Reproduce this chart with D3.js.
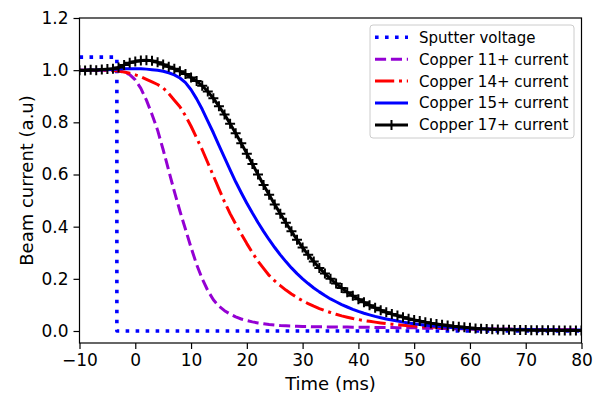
<!DOCTYPE html>
<html><head><meta charset="utf-8">
<script src="https://cdn.jsdelivr.net/npm/d3@7"></script>
<style>html,body{margin:0;padding:0;background:#fff}svg{display:block;font-family:"DejaVu Sans",sans-serif}</style>
</head><body><svg id="c" width="602" height="394"></svg>
<script>
// ---- data ----
const time = [-10,-9,-8,-7,-6,-5,-4,-3,-2,-1,0,1,2,3,4,5,6,7,8,9,10,11,12,13,14,15,16,17,18,19,20,21,22,23,24,25,26,27,28,29,30,31,32,33,34,35,36,37,38,39,40,41,42,43,44,45,46,47,48,49,50,51,52,53,54,55,56,57,58,59,60,61,62,63,64,65,66,67,68,69,70,71,72,73,74,75,76,77,78,79,80];
const voltageTime = [-10, -3.3, -3.3, 80];
const sputterVoltage = [1.05, 1.05, 0, 0];
const copper11 = [1.0,1.0,1.0,1.0,1.0,1.0,0.999,0.997,0.992,0.983,
 0.963,0.93,0.885,0.83,0.77,0.695,0.615,0.535,0.46,0.39,
 0.32,0.255,0.2,0.155,0.12,0.095,0.078,0.065,0.054,0.046,
 0.04,0.035,0.031,0.028,0.025,0.023,0.021,0.02,0.019,0.018,
 0.017,0.017,0.016,0.016,0.016,0.015,0.015,0.015,0.015,0.014,
 0.014,0.014,0.014,0.013,0.013,0.013,0.013,0.012,0.012,0.012,
 0.012,0.011,0.011,0.011,0.010,0.010,0.010,0.009,0.009,0.009,
 0.009,0.008,0.008,0.008,0.008,0.007,0.007,0.007,0.007,0.007,
 0.006,0.006,0.006,0.006,0.006,0.005,0.005,0.005,0.005,0.005,0.005];
const copper14 = [1.0,1.0,1.0,1.0,1.0,1.0,0.999,0.997,0.993,0.988,
 0.982,0.975,0.965,0.955,0.945,0.932,0.91,0.885,0.86,0.825,
 0.785,0.74,0.695,0.645,0.595,0.545,0.495,0.45,0.41,0.372,
 0.335,0.3,0.268,0.24,0.213,0.192,0.174,0.157,0.142,0.128,
 0.116,0.105,0.095,0.086,0.078,0.071,0.064,0.058,0.053,0.048,
 0.044,0.04,0.037,0.034,0.031,0.028,0.026,0.024,0.022,0.02,
 0.019,0.017,0.016,0.015,0.014,0.013,0.012,0.011,0.01,0.009,
 0.009,0.008,0.008,0.008,0.007,0.007,0.007,0.007,0.006,0.006,
 0.006,0.006,0.006,0.005,0.005,0.005,0.005,0.005,0.004,0.004,0.004];
const copper15 = [1.0,1.0,1.001,1.001,1.002,1.002,1.003,1.004,1.005,1.005,
 1.005,1.005,1.004,1.002,1.0,0.996,0.99,0.982,0.97,0.952,
 0.925,0.89,0.85,0.805,0.76,0.712,0.665,0.618,0.572,0.53,
 0.49,0.452,0.416,0.382,0.35,0.32,0.292,0.266,0.242,0.22,
 0.2,0.182,0.165,0.15,0.136,0.123,0.112,0.101,0.092,0.083,
 0.075,0.068,0.062,0.056,0.051,0.046,0.042,0.038,0.034,0.031,
 0.028,0.025,0.022,0.02,0.018,0.016,0.014,0.012,0.011,0.01,
 0.009,0.008,0.008,0.008,0.007,0.007,0.007,0.007,0.006,0.006,
 0.006,0.006,0.005,0.005,0.005,0.005,0.004,0.004,0.004,0.004,0.004];
const copper17 = [1.0,0.999,1.002,1.0,1.003,1.004,1.005,1.01,1.02,1.028,
 1.033,1.037,1.038,1.036,1.03,1.022,1.013,1.005,0.996,0.985,
 0.972,0.958,0.94,0.918,0.892,0.862,0.83,0.795,0.758,0.72,
 0.68,0.64,0.6,0.56,0.522,0.485,0.45,0.415,0.382,0.35,
 0.32,0.292,0.266,0.242,0.22,0.2,0.182,0.165,0.149,0.135,
 0.122,0.11,0.099,0.089,0.08,0.072,0.065,0.059,0.053,0.047,
 0.042,0.038,0.034,0.03,0.027,0.024,0.021,0.018,0.016,0.014,
 0.012,0.01,0.009,0.008,0.007,0.006,0.005,0.005,0.004,0.004,
 0.004,0.003,0.003,0.003,0.003,0.003,0.002,0.002,0.002,0.002,0.002];
const xTicks = [-10,0,10,20,30,40,50,60,70,80];
const yTicks = [0.0,0.2,0.4,0.6,0.8,1.0,1.2];
const seriesNames = ["Sputter voltage","Copper 11+ current","Copper 14+ current","Copper 15+ current","Copper 17+ current"];

// ---- chart ----
const svg = d3.select("#c");
const L = 79.5, R = 581.5, T = 18, B = 343;
const x = d3.scaleLinear().domain([-10, 80]).range([L, R]);
const y = d3.scaleLinear().domain([-0.046, 1.2]).range([B, T]);

svg.append("defs").append("clipPath").attr("id","clip")
  .append("rect").attr("x",L).attr("y",T).attr("width",R-L).attr("height",B-T);

const styles = [
  {color:"#0000ff", width:3.6, dash:"3.6 6.4", cap:"butt"},
  {color:"#9400d3", width:3, dash:"11.1 4.8", cap:"butt"},
  {color:"#ff0000", width:3, dash:"19.2 4.8 3 4.8", cap:"butt"},
  {color:"#0000ff", width:3, dash:null, cap:"butt"},
  {color:"#000000", width:3, dash:null, cap:"butt"}
];

const plot = svg.append("g").attr("clip-path","url(#clip)");
const line = d3.line().x(d=>x(d[0])).y(d=>y(d[1]));

const seriesData = [
  voltageTime.map((t,i)=>[t, sputterVoltage[i]]),
  time.map((t,i)=>[t, copper11[i]]),
  time.map((t,i)=>[t, copper14[i]]),
  time.map((t,i)=>[t, copper15[i]]),
  time.map((t,i)=>[t, copper17[i]])
];

seriesData.forEach((data, k) => {
  const s = styles[k];
  plot.append("path").datum(data).attr("d", line)
    .attr("fill","none").attr("stroke", s.color).attr("stroke-width", s.width)
    .attr("stroke-dasharray", s.dash).attr("stroke-linecap", s.cap).attr("stroke-linejoin","round");
});

// '+' markers for Copper 17+
const plusSym = d3.symbol().type(d3.symbolCross);
const plusPath = "M-5,0H5M0,-5V5";
plot.append("g").selectAll("path").data(seriesData[4]).join("path")
  .attr("transform", d=>`translate(${x(d[0])},${y(d[1])})`)
  .attr("d", plusPath).attr("stroke","#000").attr("stroke-width",2).attr("fill","none");

// axes
const xAxis = d3.axisBottom(x).tickValues(xTicks).tickSize(6).tickPadding(5).tickFormat(d3.format("d"));
const yAxis = d3.axisLeft(y).tickValues(yTicks).tickSize(6).tickPadding(5).tickFormat(d3.format(".1f"));
const gx = svg.append("g").attr("transform",`translate(0,${B})`).call(xAxis);
const gy = svg.append("g").attr("transform",`translate(${L},0)`).call(yAxis);
[gx, gy].forEach(g => {
  g.select(".domain").remove();
  g.selectAll(".tick line").attr("stroke","#000").attr("stroke-width",1.2);
  g.selectAll(".tick text").attr("fill","#000").style("font-size","17px").style("font-family","DejaVu Sans");
});

// frame
svg.append("rect").attr("x",L).attr("y",T).attr("width",R-L).attr("height",B-T)
  .attr("fill","none").attr("stroke","#000").attr("stroke-width",1.2);

// labels
svg.append("text").attr("x",(L+R)/2).attr("y",390).attr("text-anchor","middle")
  .style("font-size","18px").text("Time (ms)");
svg.append("text").attr("transform",`translate(33,${(T+B)/2}) rotate(-90)`).attr("text-anchor","middle")
  .style("font-size","18px").text("Beam current (a.u)");

// legend
const lg = svg.append("g");
lg.append("rect").attr("x",370).attr("y",25).attr("width",204).attr("height",113).attr("rx",3)
  .attr("fill","#fff").attr("fill-opacity",0.8).attr("stroke","#cccccc").attr("stroke-width",1);
seriesNames.forEach((name, k) => {
  const cy = 37.3 + k*21.9;
  const s = styles[k];
  lg.append("line").attr("x1",375).attr("x2",408).attr("y1",cy).attr("y2",cy)
    .attr("stroke", s.color).attr("stroke-width", s.width).attr("stroke-dasharray", s.dash);
  if (k === 4) {
    lg.append("path").attr("transform",`translate(391.5,${cy})`).attr("d",plusPath)
      .attr("stroke","#000").attr("stroke-width",2);
  }
  lg.append("text").attr("x",419).attr("y",cy).attr("dy","0.36em")
    .style("font-size","15px").text(name);
});
</script></body></html>
